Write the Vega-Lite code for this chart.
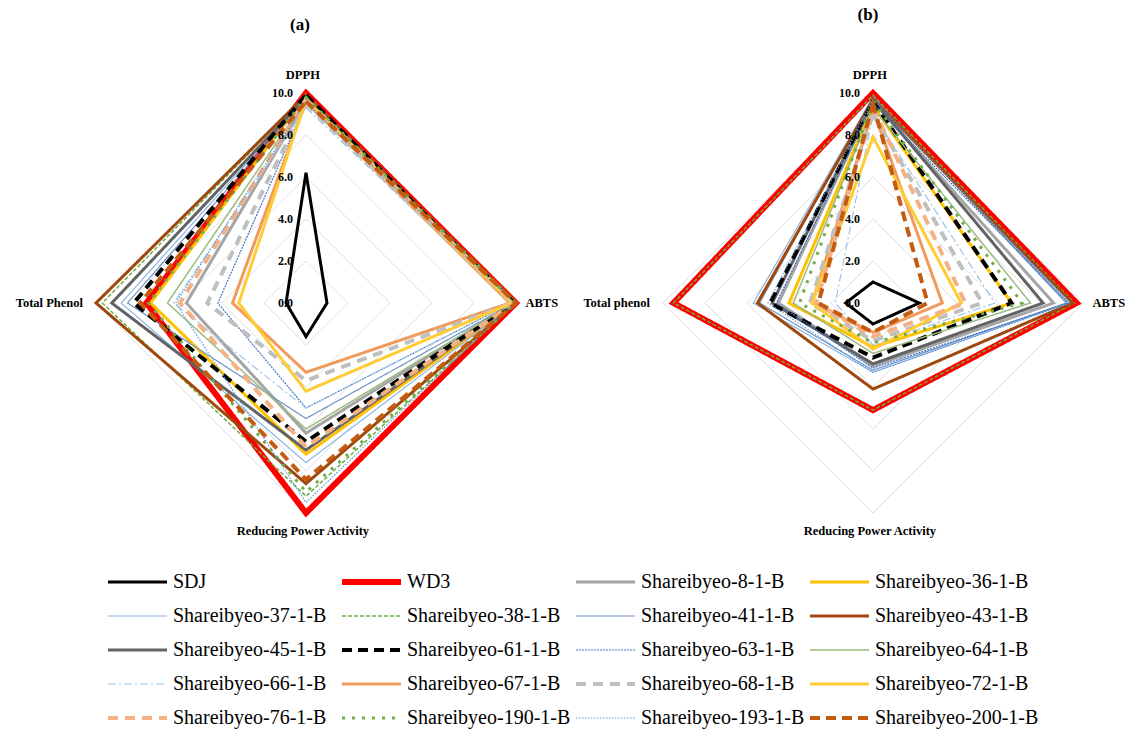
{
  "$schema": "https://vega.github.io/schema/vega-lite/v6.json",
  "width": 1126,
  "height": 732,
  "padding": 0,
  "autosize": {"type": "none"},
  "background": "white",
  "config": {
    "view": {"stroke": null},
    "font": "Liberation Serif",
    "legend": {
      "orient": "none",
      "direction": "horizontal",
      "legendX": 105,
      "legendY": 571,
      "columns": 4,
      "gridAlign": "all",
      "symbolType": "stroke",
      "symbolSize": 3481,
      "clipHeight": 22,
      "padding": 0,
      "labelFont": "Liberation Serif",
      "labelFontSize": 20,
      "labelColor": "#000000",
      "labelOffset": 3,
      "labelLimit": 300,
      "columnPadding": 2,
      "rowPadding": 12
    }
  },
  "datasets": {
    "series": [
      {"p": "a", "s": "SDJ", "DPPH": 6.2, "ABTS": 1.0, "RPA": 1.6, "TP": 0.95},
      {"p": "a", "s": "WD3", "DPPH": 10, "ABTS": 10, "RPA": 10, "TP": 7.6},
      {"p": "a", "s": "Shareibyeo-8-1-B", "DPPH": 9.6, "ABTS": 9.9, "RPA": 6.2, "TP": 5.7},
      {"p": "a", "s": "Shareibyeo-36-1-B", "DPPH": 9.9, "ABTS": 10, "RPA": 7.2, "TP": 7.4},
      {"p": "a", "s": "Shareibyeo-37-1-B", "DPPH": 9.8, "ABTS": 10, "RPA": 7.6, "TP": 8.8},
      {"p": "a", "s": "Shareibyeo-38-1-B", "DPPH": 9.9, "ABTS": 10, "RPA": 9.2, "TP": 9.7},
      {"p": "a", "s": "Shareibyeo-41-1-B", "DPPH": 9.7, "ABTS": 9.9, "RPA": 5.5, "TP": 8.5},
      {"p": "a", "s": "Shareibyeo-43-1-B", "DPPH": 9.9, "ABTS": 10, "RPA": 8.6, "TP": 10},
      {"p": "a", "s": "Shareibyeo-45-1-B", "DPPH": 9.8, "ABTS": 9.9, "RPA": 7.0, "TP": 9.25},
      {"p": "a", "s": "Shareibyeo-61-1-B", "DPPH": 9.9, "ABTS": 9.9, "RPA": 6.6, "TP": 8.2},
      {"p": "a", "s": "Shareibyeo-63-1-B", "DPPH": 9.5, "ABTS": 9.8, "RPA": 5.0, "TP": 4.2},
      {"p": "a", "s": "Shareibyeo-64-1-B", "DPPH": 9.7, "ABTS": 9.9, "RPA": 6.0, "TP": 6.6},
      {"p": "a", "s": "Shareibyeo-66-1-B", "DPPH": 9.3, "ABTS": 9.8, "RPA": 5.0, "TP": 6.3},
      {"p": "a", "s": "Shareibyeo-67-1-B", "DPPH": 9.6, "ABTS": 9.7, "RPA": 3.3, "TP": 3.5},
      {"p": "a", "s": "Shareibyeo-68-1-B", "DPPH": 9.5, "ABTS": 9.8, "RPA": 3.7, "TP": 4.7},
      {"p": "a", "s": "Shareibyeo-72-1-B", "DPPH": 9.7, "ABTS": 9.8, "RPA": 4.2, "TP": 3.2},
      {"p": "a", "s": "Shareibyeo-76-1-B", "DPPH": 9.7, "ABTS": 9.9, "RPA": 6.85, "TP": 6.0},
      {"p": "a", "s": "Shareibyeo-190-1-B", "DPPH": 9.8, "ABTS": 10, "RPA": 9.0, "TP": 7.5},
      {"p": "a", "s": "Shareibyeo-193-1-B", "DPPH": 9.6, "ABTS": 9.9, "RPA": 9.5, "TP": 6.2},
      {"p": "a", "s": "Shareibyeo-200-1-B", "DPPH": 9.6, "ABTS": 10, "RPA": 8.4, "TP": 7.9},
      {"p": "b", "s": "SDJ", "DPPH": 1.0, "ABTS": 2.2, "RPA": 1.0, "TP": 1.3},
      {"p": "b", "s": "WD3", "DPPH": 10, "ABTS": 9.7, "RPA": 5.1, "TP": 9.5},
      {"p": "b", "s": "Shareibyeo-8-1-B", "DPPH": 9.6, "ABTS": 8.6, "RPA": 3.0, "TP": 4.5},
      {"p": "b", "s": "Shareibyeo-36-1-B", "DPPH": 9.4, "ABTS": 6.6, "RPA": 2.1, "TP": 4.0},
      {"p": "b", "s": "Shareibyeo-37-1-B", "DPPH": 9.8, "ABTS": 9.3, "RPA": 3.3, "TP": 5.7},
      {"p": "b", "s": "Shareibyeo-38-1-B", "DPPH": 9.9, "ABTS": 9.6, "RPA": 5.1, "TP": 9.5},
      {"p": "b", "s": "Shareibyeo-41-1-B", "DPPH": 9.8, "ABTS": 9.2, "RPA": 3.2, "TP": 5.4},
      {"p": "b", "s": "Shareibyeo-43-1-B", "DPPH": 9.7, "ABTS": 9.5, "RPA": 4.1, "TP": 5.5},
      {"p": "b", "s": "Shareibyeo-45-1-B", "DPPH": 9.7, "ABTS": 8.1, "RPA": 2.9, "TP": 4.8},
      {"p": "b", "s": "Shareibyeo-61-1-B", "DPPH": 9.6, "ABTS": 6.6, "RPA": 2.6, "TP": 4.9},
      {"p": "b", "s": "Shareibyeo-63-1-B", "DPPH": 9.5, "ABTS": 9.3, "RPA": 3.1, "TP": 4.6},
      {"p": "b", "s": "Shareibyeo-64-1-B", "DPPH": 9.3, "ABTS": 7.5, "RPA": 2.4, "TP": 3.8},
      {"p": "b", "s": "Shareibyeo-66-1-B", "DPPH": 9.0, "ABTS": 5.8, "RPA": 2.0, "TP": 1.8},
      {"p": "b", "s": "Shareibyeo-67-1-B", "DPPH": 9.2, "ABTS": 3.3, "RPA": 1.4, "TP": 2.9},
      {"p": "b", "s": "Shareibyeo-68-1-B", "DPPH": 9.0, "ABTS": 5.2, "RPA": 1.8, "TP": 3.0},
      {"p": "b", "s": "Shareibyeo-72-1-B", "DPPH": 7.9, "ABTS": 4.2, "RPA": 2.2, "TP": 2.9},
      {"p": "b", "s": "Shareibyeo-76-1-B", "DPPH": 9.3, "ABTS": 4.4, "RPA": 1.6, "TP": 2.7},
      {"p": "b", "s": "Shareibyeo-190-1-B", "DPPH": 9.6, "ABTS": 7.1, "RPA": 1.9, "TP": 3.5},
      {"p": "b", "s": "Shareibyeo-193-1-B", "DPPH": 9.7, "ABTS": 9.4, "RPA": 3.3, "TP": 5.0},
      {"p": "b", "s": "Shareibyeo-200-1-B", "DPPH": 9.5, "ABTS": 2.6, "RPA": 1.4, "TP": 2.6}
    ],
    "grid": [
      {"p": "a", "g": 2, "DPPH": 2, "ABTS": 2, "RPA": 2, "TP": 2},
      {"p": "a", "g": 4, "DPPH": 4, "ABTS": 4, "RPA": 4, "TP": 4},
      {"p": "a", "g": 6, "DPPH": 6, "ABTS": 6, "RPA": 6, "TP": 6},
      {"p": "a", "g": 8, "DPPH": 8, "ABTS": 8, "RPA": 8, "TP": 8},
      {"p": "a", "g": 10, "DPPH": 10, "ABTS": 10, "RPA": 10, "TP": 10},
      {"p": "b", "g": 2, "DPPH": 2, "ABTS": 2, "RPA": 2, "TP": 2},
      {"p": "b", "g": 4, "DPPH": 4, "ABTS": 4, "RPA": 4, "TP": 4},
      {"p": "b", "g": 6, "DPPH": 6, "ABTS": 6, "RPA": 6, "TP": 6},
      {"p": "b", "g": 8, "DPPH": 8, "ABTS": 8, "RPA": 8, "TP": 8},
      {"p": "b", "g": 10, "DPPH": 10, "ABTS": 10, "RPA": 10, "TP": 10}
    ],
    "ticks": [
      {"p": "a", "v": 0}, {"p": "a", "v": 2}, {"p": "a", "v": 4}, {"p": "a", "v": 6}, {"p": "a", "v": 8}, {"p": "a", "v": 10},
      {"p": "b", "v": 0}, {"p": "b", "v": 2}, {"p": "b", "v": 4}, {"p": "b", "v": 6}, {"p": "b", "v": 8}, {"p": "b", "v": 10}
    ],
    "labels": [
      {"p": "a", "k": "DPPH", "t": "DPPH"},
      {"p": "a", "k": "ABTS", "t": "ABTS"},
      {"p": "a", "k": "RPA", "t": "Reducing Power Activity"},
      {"p": "a", "k": "TP", "t": "Total Phenol"},
      {"p": "b", "k": "DPPH", "t": "DPPH"},
      {"p": "b", "k": "ABTS", "t": "ABTS"},
      {"p": "b", "k": "RPA", "t": "Reducing Power Activity"},
      {"p": "b", "k": "TP", "t": "Total phenol"}
    ],
    "titles": [
      {"p": "a", "t": "(a)"},
      {"p": "b", "t": "(b)"}
    ]
  },
  "layer": [
    {
      "data": {"name": "grid"},
      "transform": [
        {"fold": ["DPPH", "ABTS", "RPA", "TP"], "as": ["key", "value"]},
        {"calculate": "indexof(['DPPH','ABTS','RPA','TP'], datum.key)", "as": "ord"},
        {"calculate": "(datum.p == 'b' ? 27 : 0) + (datum.key == 'ABTS' ? datum.value : datum.key == 'TP' ? -datum.value : 0)", "as": "x"},
        {"calculate": "datum.key == 'DPPH' ? datum.value : datum.key == 'RPA' ? -datum.value : 0", "as": "y"}
      ],
      "mark": {"type": "line", "interpolate": "linear-closed", "stroke": "#e0e0e0", "strokeWidth": 1},
      "encoding": {
        "x": {"field": "x", "type": "quantitative", "scale": {"domain": [-14.5714, 39.0476], "nice": false, "zero": false}, "axis": null},
        "y": {"field": "y", "type": "quantitative", "scale": {"domain": [-20.4286, 14.4286], "nice": false, "zero": false}, "axis": null},
        "detail": [{"field": "p"}, {"field": "g"}],
        "order": {"field": "ord", "type": "quantitative"}
      }
    },
    {
      "data": {"name": "series"},
      "transform": [
        {"fold": ["DPPH", "ABTS", "RPA", "TP"], "as": ["key", "value"]},
        {"calculate": "indexof(['DPPH','ABTS','RPA','TP'], datum.key)", "as": "ord"},
        {"calculate": "(datum.p == 'b' ? 27 : 0) + (datum.key == 'ABTS' ? datum.value : datum.key == 'TP' ? -datum.value : 0)", "as": "x"},
        {"calculate": "datum.key == 'DPPH' ? datum.value : datum.key == 'RPA' ? -datum.value : 0", "as": "y"}
      ],
      "mark": {"type": "line", "interpolate": "linear-closed"},
      "encoding": {
        "x": {"field": "x", "type": "quantitative", "scale": {"domain": [-14.5714, 39.0476], "nice": false, "zero": false}, "axis": null},
        "y": {"field": "y", "type": "quantitative", "scale": {"domain": [-20.4286, 14.4286], "nice": false, "zero": false}, "axis": null},
        "detail": {"field": "p"},
        "order": {"field": "ord", "type": "quantitative"},
        "color": {
          "field": "s", "type": "nominal",
          "scale": {
            "domain": ["SDJ","WD3","Shareibyeo-8-1-B","Shareibyeo-36-1-B","Shareibyeo-37-1-B","Shareibyeo-38-1-B","Shareibyeo-41-1-B","Shareibyeo-43-1-B","Shareibyeo-45-1-B","Shareibyeo-61-1-B","Shareibyeo-63-1-B","Shareibyeo-64-1-B","Shareibyeo-66-1-B","Shareibyeo-67-1-B","Shareibyeo-68-1-B","Shareibyeo-72-1-B","Shareibyeo-76-1-B","Shareibyeo-190-1-B","Shareibyeo-193-1-B","Shareibyeo-200-1-B"],
            "range": ["#000000","#ff0000","#a5a5a5","#ffc000","#8eb4e3","#70ad47","#6f93c4","#9e480e","#636363","#000000","#4472c4","#9bbb7f","#9dc3e6","#f09a5c","#bfbfbf","#ffcc33","#f4b183","#70ad47","#5b9bd5","#c55a11"]
          },
          "legend": {"title": null, "labelFont": "Liberation Serif", "labelFontSize": 20}
        },
        "strokeDash": {
          "field": "s", "type": "nominal",
          "scale": {
            "domain": ["SDJ","WD3","Shareibyeo-8-1-B","Shareibyeo-36-1-B","Shareibyeo-37-1-B","Shareibyeo-38-1-B","Shareibyeo-41-1-B","Shareibyeo-43-1-B","Shareibyeo-45-1-B","Shareibyeo-61-1-B","Shareibyeo-63-1-B","Shareibyeo-64-1-B","Shareibyeo-66-1-B","Shareibyeo-67-1-B","Shareibyeo-68-1-B","Shareibyeo-72-1-B","Shareibyeo-76-1-B","Shareibyeo-190-1-B","Shareibyeo-193-1-B","Shareibyeo-200-1-B"],
            "range": [[1,0],[1,0],[1,0],[1,0],[1,0],[4,2],[1,0],[1,0],[1,0],[10,6],[2,1],[1,0],[8,3,2,3],[1,0],[10,7],[1,0],[10,7],[3,7],[1.5,1.5],[10,6]]
          },
          "legend": {"title": null, "labelFont": "Liberation Serif", "labelFontSize": 20}
        },
        "strokeWidth": {
          "field": "s", "type": "nominal",
          "scale": {
            "type": "ordinal",
            "domain": ["SDJ","WD3","Shareibyeo-8-1-B","Shareibyeo-36-1-B","Shareibyeo-37-1-B","Shareibyeo-38-1-B","Shareibyeo-41-1-B","Shareibyeo-43-1-B","Shareibyeo-45-1-B","Shareibyeo-61-1-B","Shareibyeo-63-1-B","Shareibyeo-64-1-B","Shareibyeo-66-1-B","Shareibyeo-67-1-B","Shareibyeo-68-1-B","Shareibyeo-72-1-B","Shareibyeo-76-1-B","Shareibyeo-190-1-B","Shareibyeo-193-1-B","Shareibyeo-200-1-B"],
            "range": [3,6,3,3,1.2,1.5,1.2,3,3,4,1.2,1.5,1.2,3,4,3,4,3,1.2,4]
          },
          "legend": {"title": null, "labelFont": "Liberation Serif", "labelFontSize": 20}
        }
      }
    },
    {
      "data": {"name": "ticks"},
      "transform": [{"calculate": "datum.p == 'b' ? 27 : 0", "as": "x"}],
      "mark": {"type": "text", "align": "right", "baseline": "middle", "dx": -13, "font": "Liberation Serif", "fontWeight": "bold", "fontSize": 12, "color": "#000000"},
      "encoding": {
        "x": {"field": "x", "type": "quantitative", "scale": {"domain": [-14.5714, 39.0476], "nice": false, "zero": false}, "axis": null},
        "y": {"field": "v", "type": "quantitative", "scale": {"domain": [-20.4286, 14.4286], "nice": false, "zero": false}, "axis": null},
        "text": {"field": "v", "type": "quantitative", "format": ".1f"}
      }
    },
    {
      "data": {"name": "labels"},
      "transform": [
        {"filter": "datum.k == 'DPPH' || datum.k == 'RPA'"},
        {"calculate": "(datum.p == 'b' ? 27 : 0) - 0.15", "as": "x"},
        {"calculate": "datum.k == 'DPPH' ? 10.85 : -10.85", "as": "y"}
      ],
      "mark": {"type": "text", "align": "center", "baseline": "middle", "font": "Liberation Serif", "fontWeight": "bold", "fontSize": 12.5, "color": "#000000"},
      "encoding": {
        "x": {"field": "x", "type": "quantitative", "scale": {"domain": [-14.5714, 39.0476], "nice": false, "zero": false}, "axis": null},
        "y": {"field": "y", "type": "quantitative", "scale": {"domain": [-20.4286, 14.4286], "nice": false, "zero": false}, "axis": null},
        "text": {"field": "t"}
      }
    },
    {
      "data": {"name": "labels"},
      "transform": [
        {"filter": "datum.k == 'ABTS'"},
        {"calculate": "(datum.p == 'b' ? 27 : 0) + 10.45", "as": "x"},
        {"calculate": "0", "as": "y"}
      ],
      "mark": {"type": "text", "align": "left", "baseline": "middle", "font": "Liberation Serif", "fontWeight": "bold", "fontSize": 12.5, "color": "#000000"},
      "encoding": {
        "x": {"field": "x", "type": "quantitative", "scale": {"domain": [-14.5714, 39.0476], "nice": false, "zero": false}, "axis": null},
        "y": {"field": "y", "type": "quantitative", "scale": {"domain": [-20.4286, 14.4286], "nice": false, "zero": false}, "axis": null},
        "text": {"field": "t"}
      }
    },
    {
      "data": {"name": "labels"},
      "transform": [
        {"filter": "datum.k == 'TP'"},
        {"calculate": "(datum.p == 'b' ? 27 : 0) - 10.62", "as": "x"},
        {"calculate": "0", "as": "y"}
      ],
      "mark": {"type": "text", "align": "right", "baseline": "middle", "font": "Liberation Serif", "fontWeight": "bold", "fontSize": 12.5, "color": "#000000"},
      "encoding": {
        "x": {"field": "x", "type": "quantitative", "scale": {"domain": [-14.5714, 39.0476], "nice": false, "zero": false}, "axis": null},
        "y": {"field": "y", "type": "quantitative", "scale": {"domain": [-20.4286, 14.4286], "nice": false, "zero": false}, "axis": null},
        "text": {"field": "t"}
      }
    },
    {
      "data": {"name": "titles"},
      "transform": [
        {"calculate": "datum.p == 'b' ? 26.76 : -0.29", "as": "x"},
        {"calculate": "datum.p == 'b' ? 13.71 : 13.24", "as": "y"}
      ],
      "mark": {"type": "text", "align": "center", "baseline": "middle", "font": "Liberation Serif", "fontWeight": "bold", "fontSize": 17, "color": "#000000"},
      "encoding": {
        "x": {"field": "x", "type": "quantitative", "scale": {"domain": [-14.5714, 39.0476], "nice": false, "zero": false}, "axis": null},
        "y": {"field": "y", "type": "quantitative", "scale": {"domain": [-20.4286, 14.4286], "nice": false, "zero": false}, "axis": null},
        "text": {"field": "t"}
      }
    }
  ]
}
